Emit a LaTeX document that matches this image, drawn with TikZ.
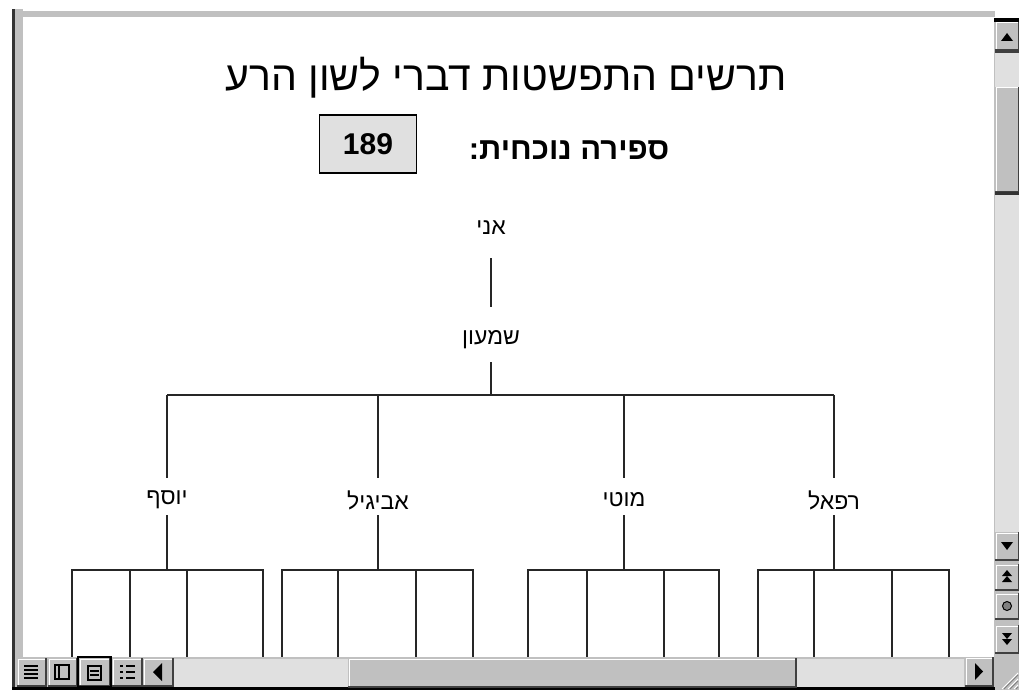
\documentclass[tikz,border=0pt]{standalone}
\usepackage{fontspec}
\setmainfont{Liberation Sans}
\newfontfamily\hebfont[Script=Hebrew]{Liberation Sans}
\TeXXeTstate=1

\definecolor{winface}{RGB}{192,192,192}
\definecolor{dither}{RGB}{224,224,224}
\definecolor{winshade}{RGB}{128,128,128}

\tikzset{
  person/.style={font=\hebfont\fontsize{23}{23}\selectfont, inner sep=0pt},
  branch/.style={line width=1.8pt, black!85},
  glyph/.style={fill=black},
}

% 3D window button: x1 y1 x2 y2
\newcommand\winbutton[4]{%
  \fill[winface] (#1,#2) rectangle (#3,#4);
  \draw[white, line width=1pt] (#1+1,#4-1) -- (#1+1,#2+1) -- (#3-1,#2+1);
  \draw[black!75, line width=1.2pt] (#1,#4) -- (#3,#4) -- (#3,#2);
}

\begin{document}
\begin{tikzpicture}[x=1pt,y=-1pt]
  \useasboundingbox (0,0) rectangle (1019,690);
  \fill[white] (0,0) rectangle (1019,690);

  % heading and counter
  \node[font=\hebfont\fontsize{41}{41}\selectfont] (title) at (506,78) {\beginR תרשים התפשטות דברי לשון הרע\endR};
  \node[font=\hebfont\bfseries\fontsize{31}{31}\selectfont] (sublabel) at (569,150) {\beginR ספירה נוכחית:\endR};
  \node[draw=black, line width=1.2pt, fill=dither, minimum width=97pt, minimum height=58pt,
        font=\bfseries\fontsize{30}{30}\selectfont] (count) at (368,144) {189};

  % tree
  \node[person] (me) at (491,228) {\beginR אני\endR};
  \node[person] (shimon) at (491,340) {\beginR שמעון\endR};
  \coordinate (hub) at (491,395);
  \draw[branch] ([yshift=-30pt]me.center) -- ([yshift=33pt]shimon.center);
  \draw[branch] ([yshift=-22pt]shimon.center) -- (hub);
  \foreach \name/\x/\lbl/\ga/\gb/\gc/\gd in {yosef/167/יוסף/72/130/187/263,
      avigail/378/אביגיל/282/338/416/473, moti/624/מוטי/528/587/664/719,
      refael/834/רפאל/758/814/892/949}{
    \node[person] (\name) at (\x,500) {\beginR\lbl\endR};
    \draw[branch] (\name |- hub) -- ([yshift=22pt]\name.center);
    \coordinate (\name-bar) at (\x,570);
    \draw[branch] ([yshift=-15pt]\name.center) -- (\name-bar);
    \draw[branch] (\ga,657) -- (\ga,570) -- (\gd,570) -- (\gd,657);
    \foreach \g in {\gb,\gc} \draw[branch] (\g,570) -- (\g,657);
  }
  \draw[branch] (yosef |- hub) -- (refael |- hub);

  % window frame
  \fill[winface] (15,11) rectangle (995,17);
  \fill[winface] (15,9) rectangle (23,657);
  \fill[black!80] (12,9) rectangle (15,690);

  % vertical scroll bar
  \fill[winface] (994,18) rectangle (1019,690);
  \fill[black] (994,18) rectangle (1019,22);
  \winbutton{995}{22}{1019}{50}
  \fill[glyph] (1001,41) -- (1013,41) -- (1007,33) -- cycle;
  \fill[black!75] (995,50) rectangle (1019,53);
  \fill[dither] (995,53) rectangle (1019,87);
  \winbutton{995}{87}{1019}{192}
  \fill[black!80] (995,192) rectangle (1019,195);
  \fill[dither] (995,195) rectangle (1019,532);
  \winbutton{995}{532}{1019}{560}
  \fill[glyph] (1001,542) -- (1013,542) -- (1007,550) -- cycle;
  \winbutton{995}{564}{1019}{590}
  \fill[glyph] (1002,576) -- (1012,576) -- (1007,570) -- cycle;
  \fill[glyph] (1002,582) -- (1012,582) -- (1007,576) -- cycle;
  \winbutton{995}{593}{1019}{619}
  \draw[black, fill=winshade, line width=1pt] (1007,606) circle (4.5);
  \winbutton{995}{625}{1019}{653}
  \fill[glyph] (1002,633) -- (1012,633) -- (1007,639) -- cycle;
  \fill[glyph] (1002,639) -- (1012,639) -- (1007,645) -- cycle;
  % size grip
  \fill[winface] (995,657) rectangle (1019,690);
  \foreach \d in {0,6,12} {
    \draw[white, line width=1pt] (1002+\d,689) -- (1018,673+\d);
    \draw[winshade, line width=1pt] (1004+\d,689) -- (1018,675+\d);
  }

  % horizontal scroll bar and view buttons
  \fill[winface] (15,657) rectangle (995,690);
  \fill[black] (12,687) rectangle (995,690);
  \winbutton{17}{658}{46}{686}
  \foreach \y in {666,670,674,678} \draw[black, line width=1.5pt] (24,\y) -- (38,\y);
  \winbutton{48}{658}{77}{686}
  \draw[black, line width=1.5pt] (55,665) rectangle (69,679) (59,665) -- (59,679);
  \winbutton{79}{658}{110}{686}
  \draw[black, line width=2pt] (78,657) rectangle (111,687);
  \draw[black, line width=1.5pt] (88,666) rectangle (101,680) (90,671) -- (99,671) (90,675) -- (99,675);
  \winbutton{112}{658}{142}{686}
  \foreach \y in {666,672,678} \draw[black, line width=1.5pt] (120,\y) -- (123,\y) (126,\y) -- (135,\y);
  \winbutton{143}{658}{173}{686}
  \fill[glyph] (162,663) -- (162,681) -- (153,672) -- cycle;
  \fill[dither] (174,659) rectangle (348,687);
  \winbutton{348}{658}{796}{687}
  \fill[dither] (797,659) rectangle (964,687);
  \winbutton{965}{657}{993}{686}
  \fill[glyph] (975,663) -- (975,680) -- (983,671.5) -- cycle;
\end{tikzpicture}
\end{document}
